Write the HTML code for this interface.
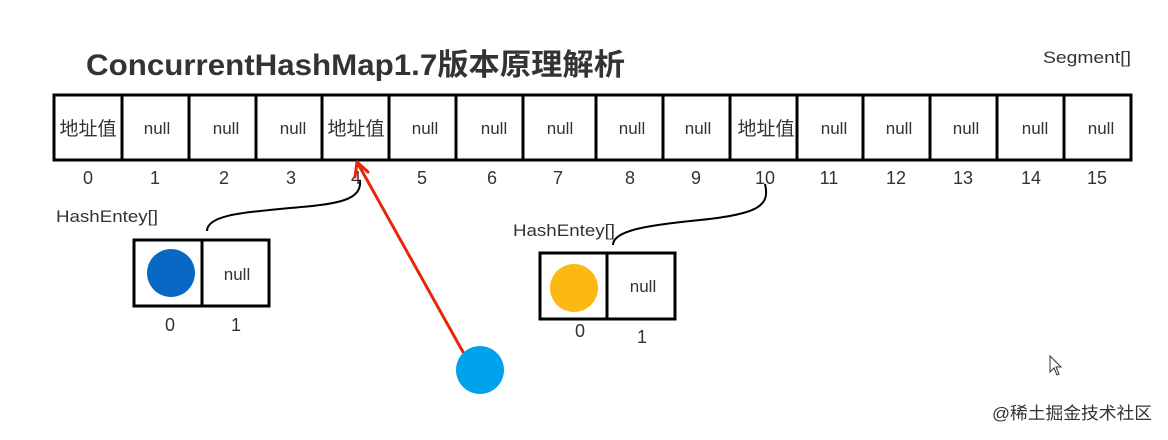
<!DOCTYPE html>
<html><head><meta charset="utf-8"><style>
html,body{margin:0;padding:0;background:#fff;}
svg{display:block;}
text{font-family:"Liberation Sans","Noto Sans CJK SC",sans-serif;fill:#333;}
</style></head><body>
<svg width="1168" height="440" viewBox="0 0 1168 440" xmlns="http://www.w3.org/2000/svg">
<text x="86" y="75" font-size="30" font-weight="bold" fill="#3a3a3a" textLength="539" lengthAdjust="spacingAndGlyphs">ConcurrentHashMap1.7版本原理解析</text>
<text x="1043" y="63" font-size="17" textLength="88" lengthAdjust="spacingAndGlyphs">Segment[]</text>
<g stroke="#000" stroke-width="3" fill="none">
<rect x="54" y="95" width="1077" height="65"/>
<path d="M122 95V160M189 95V160M256 95V160M322 95V160M389 95V160M456 95V160M523 95V160M596 95V160M663 95V160M730 95V160M797 95V160M863 95V160M930 95V160M997 95V160M1064 95V160"/>
</g>
<g font-size="17" text-anchor="middle">
<text x="88" y="135" font-size="19" fill="#3a3520">地址值</text>
<text x="157" y="134">null</text>
<text x="226" y="134">null</text>
<text x="293" y="134">null</text>
<text x="356" y="135" font-size="19" fill="#3a3520">地址值</text>
<text x="425" y="134">null</text>
<text x="494" y="134">null</text>
<text x="560" y="134">null</text>
<text x="632" y="134">null</text>
<text x="698" y="134">null</text>
<text x="766" y="135" font-size="19" fill="#3a3520">地址值</text>
<text x="834" y="134">null</text>
<text x="899" y="134">null</text>
<text x="966" y="134">null</text>
<text x="1035" y="134">null</text>
<text x="1101" y="134">null</text>
</g>
<g font-size="18" text-anchor="middle">
<text x="88" y="184">0</text><text x="155" y="184">1</text><text x="224" y="184">2</text><text x="291" y="184">3</text><text x="356" y="184">4</text><text x="422" y="184">5</text><text x="492" y="184">6</text><text x="558" y="184">7</text><text x="630" y="184">8</text><text x="696" y="184">9</text><text x="765" y="184">10</text><text x="829" y="184">11</text><text x="896" y="184">12</text><text x="963" y="184">13</text><text x="1031" y="184">14</text><text x="1097" y="184">15</text>
</g>
<text x="56" y="222" font-size="17" textLength="102" lengthAdjust="spacingAndGlyphs">HashEntey[]</text>
<text x="513" y="236" font-size="17" textLength="102" lengthAdjust="spacingAndGlyphs">HashEntey[]</text>
<g stroke="#000" stroke-width="2" fill="none">
<path d="M207 231 C207 214 250 212 290 208 C340 204 362 200 360 180"/>
<path d="M613 245 C613 230 650 225 700 220 C760 214 770 205 765 184"/>
</g>
<g stroke="#000" stroke-width="3" fill="none">
<rect x="134" y="240" width="135" height="66"/><path d="M202 240V306"/>
<rect x="540" y="253" width="135" height="66"/><path d="M607 253V319"/>
</g>
<circle cx="171" cy="273" r="24" fill="#0868c4"/>
<circle cx="574" cy="288" r="24" fill="#fcb813"/>
<text x="237" y="280" font-size="17" text-anchor="middle">null</text>
<text x="643" y="292" font-size="17" text-anchor="middle">null</text>
<g font-size="18" text-anchor="middle">
<text x="170" y="331">0</text><text x="236" y="331">1</text>
<text x="580" y="337">0</text><text x="642" y="343">1</text>
</g>
<g stroke="#e8260c" stroke-width="3" fill="none" stroke-linecap="round">
<path d="M463 352L357 162"/>
<path d="M357 162L355 177M357 162L368 172"/>
</g>
<circle cx="480" cy="370" r="24" fill="#00a2ec"/>
<path d="M1050 356 L1050 372 L1054 368 L1057 375 L1059 374 L1056 367 L1061 367 Z" fill="#fff" stroke="#333" stroke-width="1"/>
<text x="992" y="419" font-size="17" fill="#b0b0b0" textLength="160" lengthAdjust="spacingAndGlyphs">@稀土掘金技术社区</text>
</svg>
</body></html>
